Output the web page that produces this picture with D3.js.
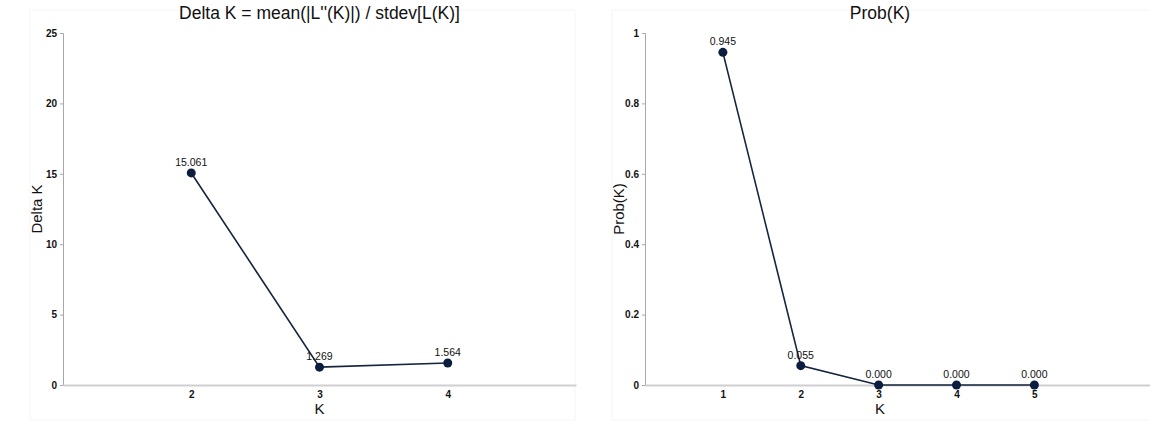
<!DOCTYPE html>
<html lang="en">
<head>
<meta charset="utf-8" />
<title>Delta K and Prob(K)</title>
<script src="https://cdn.jsdelivr.net/npm/d3@7"></script>
<style>
  body { margin:0; background:#fff; font-family:"Liberation Sans", Arial, sans-serif; }
  svg text { fill:#111; }
  .tick text { font-size:10px; font-weight:bold; }
  .title { font-size:17.5px; }
  .axlabel { font-size:15px; }
  .ptlabel { font-size:10.5px; }
</style>
</head>
<body>
<svg id="chart" width="1150" height="421"></svg>
<script>
// --- data ------------------------------------------------------------------
const deltaK = [2, 3, 4];
const deltaVals = [15.061, 1.269, 1.564];
const deltaYTicks = [0, 5, 10, 15, 20, 25];

const probK = [1, 2, 3, 4, 5];
const probVals = [0.945, 0.055, 0.000, 0.000, 0.000];
const probYTicks = [0, 0.2, 0.4, 0.6, 0.8, 1];

const svg = d3.select("#chart");

// one panel = title, axes, line, dots, value labels
function panel(opt) {
  const g = svg.append("g");

  // barely visible panel frame
  g.append("rect")
    .attr("x", opt.frame[0]).attr("y", 10)
    .attr("width", opt.frame[1] - opt.frame[0]).attr("height", 410)
    .attr("fill", "none").attr("stroke", "#f6f6f6");

  const x = d3.scaleLinear().domain(opt.xDomain).range(opt.xRange);
  const y = d3.scaleLinear().domain(opt.yDomain).range([385, 33]);

  // y axis
  const yAx = g.append("g")
    .attr("transform", `translate(${opt.xRange[0]},0)`)
    .call(d3.axisLeft(y).tickValues(opt.yTicks).tickSize(3).tickPadding(3)
      .tickFormat(d3.format("~g")));
  yAx.select(".domain").attr("stroke", "#a8a8a8");
  yAx.selectAll(".tick line").attr("stroke", "#a8a8a8");

  // x axis
  const xAx = g.append("g")
    .attr("transform", "translate(0,385)")
    .call(d3.axisBottom(x).tickValues(opt.ks).tickSize(0).tickPadding(6)
      .tickFormat(d3.format("d")));
  xAx.select(".domain").attr("stroke", "#cfcfcf").attr("stroke-width", 2);

  // line + dots
  const pts = opt.ks.map((k, i) => ({ k, v: opt.vals[i] }));
  g.append("path").datum(pts)
    .attr("fill", "none").attr("stroke", "#16243d").attr("stroke-width", 1.6)
    .attr("d", d3.line().x(d => x(d.k)).y(d => y(d.v)));

  g.selectAll("circle").data(pts).join("circle")
    .attr("cx", d => x(d.k)).attr("cy", d => y(d.v)).attr("r", 4.5)
    .attr("fill", "#0b1e3f");

  g.selectAll(".ptlabel").data(pts).join("text")
    .attr("class", "ptlabel")
    .attr("x", d => x(d.k)).attr("y", d => y(d.v) - 7)
    .attr("text-anchor", "middle")
    .text(d => d3.format(".3f")(d.v));

  // titles
  const cx = (opt.xRange[0] + opt.titleRight) / 2;
  g.append("text").attr("class", "title")
    .attr("x", cx).attr("y", 19).attr("text-anchor", "middle").text(opt.title);
  g.append("text").attr("class", "axlabel")
    .attr("x", cx).attr("y", 414).attr("text-anchor", "middle").text("K");
  g.append("text").attr("class", "axlabel")
    .attr("transform", `translate(${opt.yLabelX},209) rotate(-90)`)
    .attr("text-anchor", "middle").text(opt.yLabel);
}

panel({
  ks: deltaK, vals: deltaVals, yTicks: deltaYTicks,
  xDomain: [1, 5], xRange: [63, 576], yDomain: [0, 25],
  frame: [30, 575], titleRight: 576, yLabelX: 42,
  title: "Delta K = mean(|L''(K)|) / stdev[L(K)]", yLabel: "Delta K"
});

panel({
  ks: probK, vals: probVals, yTicks: probYTicks,
  xDomain: [0, 6.6], xRange: [645, 1159], yDomain: [0, 1],
  frame: [612, 1160], titleRight: 1115, yLabelX: 624,
  title: "Prob(K)", yLabel: "Prob(K)"
});
</script>
</body>
</html>
